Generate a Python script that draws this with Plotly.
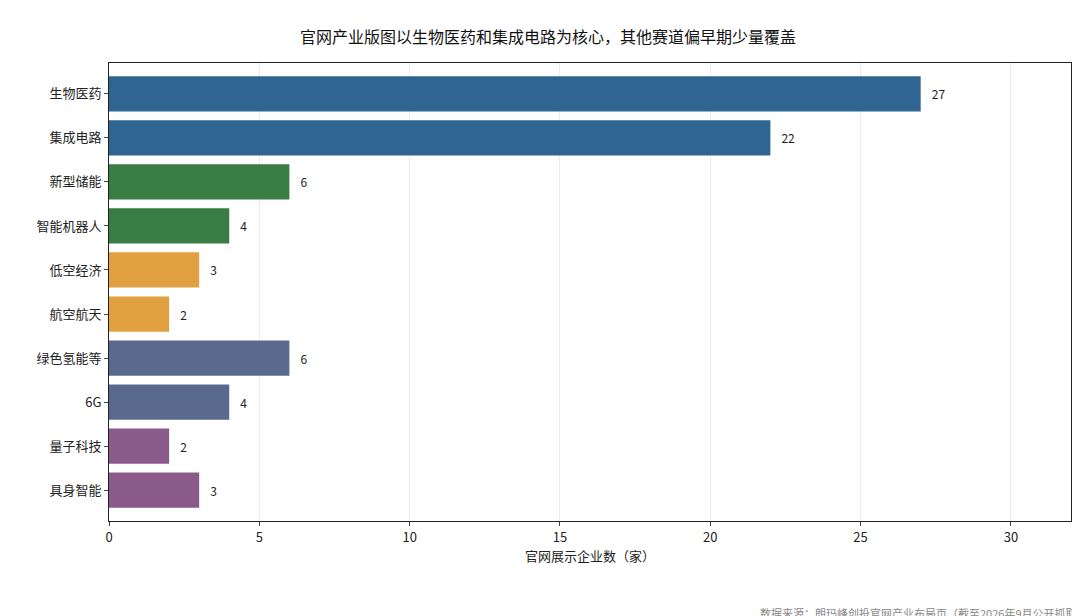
import plotly.graph_objects as go

categories = ["生物医药", "集成电路", "新型储能", "智能机器人", "低空经济", "航空航天", "绿色氢能等", "6G", "量子科技", "具身智能"]
values = [27, 22, 6, 4, 3, 2, 6, 4, 2, 3]
colors = ["#2e6591", "#2e6591", "#3a7d44", "#3a7d44", "#e1a040", "#e1a040", "#5a6a8e", "#5a6a8e", "#8a5a8b", "#8a5a8b"]

font = "Noto Sans CJK SC"
fig = go.Figure(go.Bar(
    y=categories, x=values, orientation="h", marker=dict(color=colors, line=dict(width=0)),
    width=0.8, text=["   " + str(v) for v in values], textposition="outside",
    textfont=dict(size=12, color="#222"), cliponaxis=False,
))
fig.update_layout(
    width=1080, height=616, paper_bgcolor="white", plot_bgcolor="white",
    font=dict(family=font, size=12, color="#222"),
    margin=dict(l=101, r=17, t=55, b=103, autoexpand=False),
    title=dict(text="官网产业版图以生物医药和集成电路为核心，其他赛道偏早期少量覆盖",
               x=0.5, xanchor="center", y=0.962, font=dict(size=16, color="#111")),
    showlegend=False,
)
fig.update_xaxes(range=[0, 32], dtick=5, showgrid=True, gridcolor="#ececec",
                 showline=True, linecolor="#222", mirror=True, ticks="outside",
                 ticklen=4, zeroline=False, automargin=False, tickfont=dict(size=13),
                 title=dict(text="官网展示企业数（家）", font=dict(size=13), standoff=6))
fig.update_yaxes(range=[9.7, -0.7], showline=True, linecolor="#222", mirror=True,
                 ticks="outside", ticklen=4, tickfont=dict(size=13), automargin=False)
fig.add_annotation(text="数据来源：朗玛峰创投官网产业布局页（截至2026年9月公开抓取）",
                   xref="paper", yref="paper", x=1.02, y=-0.2, xanchor="right", yanchor="middle",
                   showarrow=False, font=dict(size=11, color="#888"))
fig.write_html("out.html")
